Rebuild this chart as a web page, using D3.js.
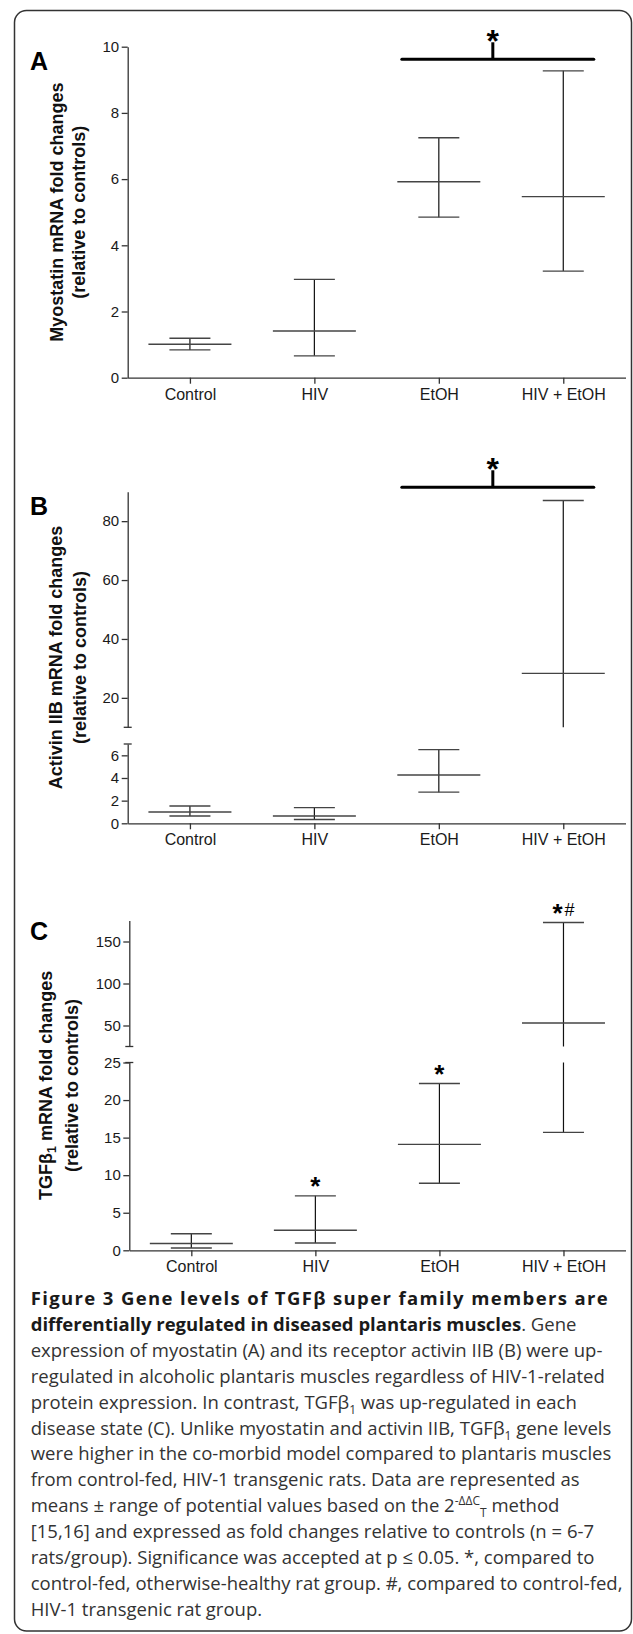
<!DOCTYPE html>
<html>
<head>
<meta charset="utf-8">
<script src="https://cdnjs.cloudflare.com/ajax/libs/d3/7.8.5/d3.min.js"></script>
<style>
  html, body { margin: 0; padding: 0; background: #fff; }
  svg { display: block; }
</style>
</head>
<body>
<div id="chart"></div>
<script>
// groups along the x axis (same in every panel)
const groups = ['Control', 'HIV', 'EtOH', 'HIV + EtOH'];

// A - myostatin: mean and the low / high end of the range
const myoMean = [1.01, 1.41, 5.92, 5.47];
const myoLow  = [0.84, 0.66, 4.85, 3.22];
const myoHigh = [1.19, 2.97, 7.25, 9.27];

// B - activin IIB
const actMean = [1.0, 0.65, 4.26, 28.3];
const actLow  = [0.65, 0.33, 2.75, 8.5];
const actHigh = [1.53, 1.38, 6.5, 87];

// C - TGFb1
const tgfMean = [0.9, 2.67, 14.1, 52.9];
const tgfLow  = [0.3, 0.97, 8.93, 15.7];
const tgfHigh = [2.2, 7.25, 22.2, 172.6];

// tick labels of each axis segment
const myoTicks     = [0, 2, 4, 6, 8, 10];
const actTicksLow  = [0, 2, 4, 6];
const actTicksHigh = [20, 40, 60, 80];
const tgfTicksLow  = [0, 5, 10, 15, 20, 25];
const tgfTicksHigh = [50, 100, 150];

// significance: bracket over EtOH + HIV+EtOH in A and B, per-group marks in C
const myoBracket = { from: 'EtOH', to: 'HIV + EtOH', value: 9.62 };
const actBracket = { from: 'EtOH', to: 'HIV + EtOH', value: 91.5 };
const tgfMarks   = ['', '*', '*', '*#'];

const W = 633, H = 1634;
const AXIS_FONT = '"Liberation Sans", Arial, sans-serif';
const INK = '#1a1a1a';

const svg = d3.select('#chart').append('svg')
    .attr('width', W)
    .attr('height', H)
    .attr('viewBox', [0, 0, W, H]);

svg.append('rect').attr('width', W).attr('height', H).attr('fill', '#fff');

// rounded frame round the whole figure
svg.append('rect')
    .attr('x', 14.5).attr('y', 10.5)
    .attr('width', 617).attr('height', 1620.5)
    .attr('rx', 12)
    .attr('fill', 'none')
    .attr('stroke', '#333')
    .attr('stroke-width', 1.5);

// ---------------------------------------------------------------------------
// one panel: segmented y axis (for the broken axes), error bars, labels
// ---------------------------------------------------------------------------
function drawPanel(p) {
    const g = svg.append('g');

    const x = d3.scalePoint()
        .domain(groups)
        .range([p.axisX, 625.5])
        .padding(0.5);

    const segs = p.segments.map(s => ({
        ...s,
        y: d3.scaleLinear().domain(s.domain).range(s.range)
    }));

    // y axis, one piece per segment
    segs.forEach(s => {
        const ax = g.append('g')
            .attr('transform', `translate(${p.axisX},0)`)
            .call(d3.axisLeft(s.y)
                .tickValues(s.ticks)
                .tickFormat(d3.format('d'))
                .tickSize(6).tickPadding(2.5).tickSizeOuter(0));
        styleAxis(ax, 15);

        // small cross marks where the axis is broken
        if (s.breakTop) {
            g.append('line')
                .attr('x1', p.axisX - 4).attr('x2', p.axisX + 4)
                .attr('y1', s.range[1]).attr('y2', s.range[1])
                .attr('stroke', '#333').attr('stroke-width', 1.3);
        }
        if (s.breakBottom) {
            g.append('line')
                .attr('x1', p.axisX - 4).attr('x2', p.axisX + 4)
                .attr('y1', s.range[0]).attr('y2', s.range[0])
                .attr('stroke', '#333').attr('stroke-width', 1.3);
        }
    });

    // x axis along zero
    const baseY = segs[0].range[0];
    const xAx = g.append('g')
        .attr('transform', `translate(0,${baseY})`)
        .call(d3.axisBottom(x).tickSize(6).tickPadding(4.5).tickSizeOuter(0));
    styleAxis(xAx, 16);

    // error bars: range as whisker with caps, mean as wide bar
    const rows = groups.map((k, i) => ({ k, mean: p.mean[i], lo: p.low[i], hi: p.high[i] }));
    const inside = (v, s) => v >= s.domain[0] && v <= s.domain[1];

    segs.forEach(s => {
        rows.forEach(r => {
            const cx = x(r.k);
            const a = Math.max(r.lo, s.domain[0]);
            const b = Math.min(r.hi, s.domain[1]);
            if (a < b) {
                g.append('line')
                    .attr('x1', cx).attr('x2', cx)
                    .attr('y1', s.y(a)).attr('y2', s.y(b))
                    .attr('stroke', '#111').attr('stroke-width', 1.2);
            }
            [r.lo, r.hi].forEach(v => {
                if (!inside(v, s)) return;
                g.append('line')
                    .attr('x1', cx - 20.5).attr('x2', cx + 20.5)
                    .attr('y1', s.y(v)).attr('y2', s.y(v))
                    .attr('stroke', '#444').attr('stroke-width', 1.4);
            });
            if (inside(r.mean, s)) {
                g.append('line')
                    .attr('x1', cx - 41.5).attr('x2', cx + 41.5)
                    .attr('y1', s.y(r.mean)).attr('y2', s.y(r.mean))
                    .attr('stroke', '#444').attr('stroke-width', 1.4);
            }
        });
    });

    // bracket with a star
    if (p.bracket) {
        const s = segs[segs.length - 1];
        const by = s.y(p.bracket.value);
        const x0 = x(p.bracket.from) - 37;
        const x1 = x(p.bracket.to) + 30.5;
        const tx = x(p.bracket.from) + 54;
        g.append('line')
            .attr('x1', x0).attr('x2', x1)
            .attr('y1', by).attr('y2', by)
            .attr('stroke', '#000').attr('stroke-width', 3)
            .attr('stroke-linecap', 'round');
        g.append('line')
            .attr('x1', tx).attr('x2', tx)
            .attr('y1', by).attr('y2', by - 17)
            .attr('stroke', '#000').attr('stroke-width', 3);
        g.append('text')
            .attr('x', tx).attr('y', by - 17 + 10)
            .attr('text-anchor', 'middle')
            .attr('font-family', AXIS_FONT)
            .attr('font-weight', 'bold')
            .attr('font-size', 32)
            .attr('fill', '#000')
            .text('*');
    }

    // per-group marks above the upper cap
    if (p.marks) {
        rows.forEach((r, i) => {
            const m = p.marks[i];
            if (!m) return;
            const s = segs.find(sg => inside(r.hi, sg));
            const cy = s.y(r.hi);
            const two = m.length > 1;
            const t = g.append('text')
                .attr('x', two ? x(r.k) - 11 : x(r.k))
                .attr('y', cy - 1)
                .attr('text-anchor', two ? 'start' : 'middle')
                .attr('font-family', AXIS_FONT)
                .attr('fill', '#000');
            t.append('tspan').attr('font-size', 26).attr('font-weight', 'bold').text('*');
            if (two) {
                t.append('tspan').attr('font-size', 18).attr('dx', 2).attr('dy', -6).text('#');
            }
        });
    }

    // panel letter
    g.append('text')
        .attr('x', 30).attr('y', p.letterY)
        .attr('font-family', AXIS_FONT)
        .attr('font-weight', 'bold')
        .attr('font-size', 25)
        .attr('fill', '#000')
        .text(p.letter);

    // two-line rotated y title
    const ty = (p.segments[0].range[0] + p.segments[p.segments.length - 1].range[1]) / 2;
    p.title.forEach((parts, li) => {
        const t = g.append('text')
            .attr('transform', `translate(${p.titleX[li]},${ty}) rotate(-90)`)
            .attr('text-anchor', 'middle')
            .attr('font-family', AXIS_FONT)
            .attr('font-weight', 'bold')
            .attr('font-size', 18)
            .attr('fill', '#111');
        let shift = 0;
        parts.forEach(pt => {
            const want = pt.sub ? 4 : 0;
            t.append('tspan')
                .attr('dy', want - shift)
                .attr('font-size', pt.sub ? 12.5 : null)
                .text(pt.t);
            shift = want;
        });
    });
}

function styleAxis(ax, size) {
    ax.attr('font-family', AXIS_FONT).attr('font-size', size);
    ax.select('.domain').attr('stroke', '#333').attr('stroke-width', 1.3);
    ax.selectAll('.tick line').attr('stroke', '#333').attr('stroke-width', 1.3);
    ax.selectAll('.tick text').attr('fill', INK);
}

drawPanel({
    letter: 'A', letterY: 70, axisX: 127.7,
    mean: myoMean, low: myoLow, high: myoHigh,
    segments: [{ domain: [0, 10], range: [377.7, 46.7], ticks: myoTicks }],
    bracket: myoBracket,
    titleX: [63, 85],
    title: [[{ t: 'Myostatin mRNA fold changes' }], [{ t: '(relative to controls)' }]]
});

drawPanel({
    letter: 'B', letterY: 515, axisX: 127.7,
    mean: actMean, low: actLow, high: actHigh,
    segments: [
        { domain: [0, 7], range: [823.3, 744], ticks: actTicksLow, breakTop: true },
        { domain: [10, 90], range: [727.3, 491.7], ticks: actTicksHigh, breakBottom: true }
    ],
    bracket: actBracket,
    titleX: [62, 86],
    title: [[{ t: 'Activin IIB mRNA fold changes' }], [{ t: '(relative to controls)' }]]
});

drawPanel({
    letter: 'C', letterY: 940, axisX: 129.3,
    mean: tgfMean, low: tgfLow, high: tgfHigh,
    segments: [
        { domain: [0, 25], range: [1250.3, 1062.5], ticks: tgfTicksLow, breakTop: true },
        { domain: [25, 175], range: [1046.5, 920.5], ticks: tgfTicksHigh, breakBottom: true }
    ],
    marks: tgfMarks,
    titleX: [52, 78],
    title: [[{ t: 'TGFβ' }, { t: '1', sub: true }, { t: ' mRNA fold changes' }], [{ t: '(relative to controls)' }]]
});

// ---------------------------------------------------------------------------
// figure caption, wrapped as in the original
// ---------------------------------------------------------------------------
const captionLines = [
    [{ t: 'Figure 3 Gene levels of TGFβ super family members are', b: 1 }],
    [{ t: 'differentially regulated in diseased plantaris muscles', b: 1 }, { t: '. Gene' }],
    [{ t: 'expression of myostatin (A) and its receptor activin IIB (B) were up-' }],
    [{ t: 'regulated in alcoholic plantaris muscles regardless of HIV-1-related' }],
    [{ t: 'protein expression. In contrast, TGFβ' }, { t: '1', sub: 1 }, { t: ' was up-regulated in each' }],
    [{ t: 'disease state (C). Unlike myostatin and activin IIB, TGFβ' }, { t: '1', sub: 1 }, { t: ' gene levels' }],
    [{ t: 'were higher in the co-morbid model compared to plantaris muscles' }],
    [{ t: 'from control-fed, HIV-1 transgenic rats. Data are represented as' }],
    [{ t: 'means ± range of potential values based on the 2' }, { t: '-ΔΔC', sup: 1 }, { t: 'T', sub: 1 }, { t: ' method' }],
    [{ t: '[15,16] and expressed as fold changes relative to controls (n = 6-7' }],
    [{ t: 'rats/group). Significance was accepted at p ≤ 0.05. *, compared to' }],
    [{ t: 'control-fed, otherwise-healthy rat group. #, compared to control-fed,' }],
    [{ t: 'HIV-1 transgenic rat group.' }]
];

const cap = svg.append('g')
    .attr('font-family', '"Open Sans", "Noto Sans", sans-serif')
    .attr('font-size', 18.5)
    .attr('fill', '#333');

captionLines.forEach((parts, i) => {
    const t = cap.append('text')
        .attr('x', 30.7)
        .attr('y', 1305 + i * 25.9);
    if (i === 0) t.attr('textLength', 577).attr('lengthAdjust', 'spacing');
    let shift = 0;
    parts.forEach(pt => {
        const want = pt.sup ? -7 : pt.sub ? 5 : 0;
        const sp = t.append('tspan')
            .attr('dy', want - shift)
            .text(pt.t);
        if (pt.b) sp.attr('font-weight', 'bold').attr('fill', '#1a1a1a');
        if (pt.sup || pt.sub) sp.attr('font-size', 12);
        shift = want;
    });
});
</script>
</body>
</html>
